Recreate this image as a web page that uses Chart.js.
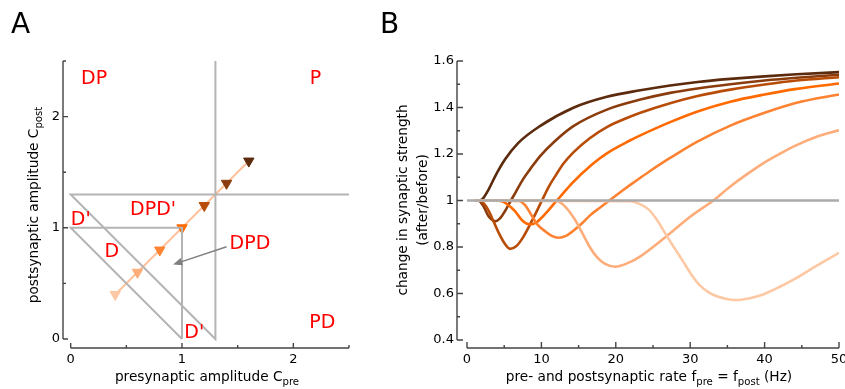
<!DOCTYPE html>
<html>
<head>
<meta charset="utf-8">
<script src="https://cdn.jsdelivr.net/npm/chart.js@4.4.0/dist/chart.umd.min.js"></script>
<style>
html, body { margin: 0; padding: 0; background: #fff; }
#wrap { position: relative; width: 845px; height: 389px; overflow: hidden; }
canvas { position: absolute; top: 0; }
#chartA { left: 0; }
#chartB { left: 370px; }
</style>
</head>
<body>
<div id="wrap">
  <canvas id="chartA" width="370" height="389"></canvas>
  <canvas id="chartB" width="475" height="389"></canvas>
</div>
<script>
// -- painel A: amplitudes --
const ampLevels = [0.4, 0.6, 0.8, 1.0, 1.2, 1.4, 1.6];
const ampColors = ['#fdc8a4', '#fdac7a', '#fd8232', '#ff6a00', '#b84c07', '#8b3c0c', '#5c2a0c'];

// limites das regioes (polilinhas)
const outerBoundX = [2.5, 0, 1.3, 1.3];
const outerBoundY = [1.3, 1.3, 0, 2.5];
const innerBoundX = [1, 0, 1, 1];
const innerBoundY = [0, 1, 1, 0];

// nomes das regioes
const regionNames = ['DP', 'P', 'PD', "DPD'", "D'", 'D', "D'", 'DPD'];
const regionX = [0.21, 2.2, 2.26, 0.74, 0.09, 0.37, 1.11, 1.61];
const regionY = [2.34, 2.34, 0.14, 1.16, 1.07, 0.78, 0.05, 0.85];
const arrowFrom = [1.40, 0.83];
const arrowTo = [0.92, 0.67];

const ampTicks = [0, 0.5, 1, 1.5, 2, 2.5];

// -- painel B: curvas de plasticidade --
const rate16 = [1, 1.5, 2, 2.9, 3.8, 5.1, 6.9, 9.8, 14.3, 18.8, 23.3, 27.3, 31, 35.4, 40, 44.3, 50];
const change16 = [1.0, 1.0, 1.004, 1.047, 1.105, 1.176, 1.248, 1.32, 1.399, 1.446, 1.474, 1.495, 1.51, 1.523, 1.534, 1.543, 1.552];

const rate14 = [1, 1.5, 2.2, 2.9, 3.8, 4.4, 5.1, 5.9, 6.5, 7.5, 8.5, 9.8, 11.8, 14.3, 18.8, 23.3, 27.3, 31, 35.4, 40, 44.3, 50];
const change14 = [1.0, 1.0, 0.976, 0.932, 0.911, 0.922, 0.954, 1.0, 1.033, 1.09, 1.135, 1.19, 1.255, 1.32, 1.391, 1.434, 1.463, 1.482, 1.5, 1.516, 1.528, 1.541];

const rate12 = [1, 1.6, 2.3, 3, 3.5, 4.2, 5, 5.8, 6.6, 7.4, 8.7, 10, 11, 12, 13, 14.3, 16.5, 18.8, 21.9, 23.3, 27.3, 31, 35.4, 40, 44.3, 50];
const change12 = [1.0, 1.0, 0.985, 0.95, 0.915, 0.865, 0.818, 0.792, 0.803, 0.835, 0.911, 0.995, 1.06, 1.112, 1.16, 1.207, 1.268, 1.316, 1.36, 1.377, 1.418, 1.449, 1.477, 1.499, 1.516, 1.53];

const rate10 = [1, 3, 4.5, 5.5, 6.45, 7.4, 8.47, 9.3, 10, 11, 11.8, 12.5, 14.1, 16.8, 18.8, 21.9, 23.3, 27.3, 31, 35.4, 40, 44.3, 50];
const change10 = [1.0, 1.0, 0.998, 0.982, 0.954, 0.915, 0.897, 0.905, 0.925, 0.96, 0.99, 1.015, 1.074, 1.155, 1.203, 1.258, 1.28, 1.337, 1.383, 1.425, 1.456, 1.48, 1.503];

const rate08 = [1, 7, 7.8, 8.7, 9.5, 10.5, 11.4, 12.27, 13.3, 14.5, 15.5, 16.5, 17.9, 19, 21, 21.9, 23.3, 24.6, 26.4, 27.3, 30.9, 35.4, 40, 44.3, 50];
const change08 = [1.0, 0.998, 0.98, 0.935, 0.895, 0.868, 0.848, 0.84, 0.848, 0.875, 0.903, 0.935, 0.97, 0.997, 1.045, 1.066, 1.098, 1.127, 1.165, 1.183, 1.252, 1.322, 1.377, 1.42, 1.456];

const rate06 = [1, 12, 13, 14.5, 15.5, 16.5, 17.5, 18.5, 19.9, 21.9, 23.3, 25, 27.1, 30, 33.1, 35.3, 37.5, 39.8, 42, 44.3, 47, 50];
const change06 = [1.0, 0.998, 0.98, 0.918, 0.86, 0.8, 0.755, 0.728, 0.715, 0.735, 0.76, 0.8, 0.854, 0.93, 1.0, 1.058, 1.11, 1.16, 1.2, 1.238, 1.274, 1.302];

const rate04 = [1, 21.9, 23, 24.4, 25.5, 26.8, 28, 29.1, 30.2, 31.3, 32.5, 33.6, 36, 38, 39.8, 42, 44.3, 47, 50];
const change04 = [1.0, 0.997, 0.988, 0.962, 0.918, 0.85, 0.79, 0.735, 0.68, 0.635, 0.605, 0.588, 0.572, 0.58, 0.596, 0.628, 0.667, 0.72, 0.775];

const baselineRate = [0, 50];
const baselineChange = [1, 1];

const rateTicks = [0, 5, 10, 15, 20, 25, 30, 35, 40, 45, 50];
const changeTicks = [0.4, 0.5, 0.6, 0.7, 0.8, 0.9, 1.0, 1.1, 1.2, 1.3, 1.4, 1.5, 1.6];

const FONT = '"DejaVu Sans", sans-serif';

// helper: pares x/y
function pts(xs, ys) {
    return xs.map((x, i) => ({ x: x, y: ys[i] }));
}

// texto com subscrito
function richText(ctx, parts, x, y, size) {
    let w = 0;
    parts.forEach(p => {
        ctx.font = (p.sub ? size * 0.74 : size) + 'px ' + FONT;
        w += ctx.measureText(p.t).width;
    });
    let cx = x - w / 2;
    parts.forEach(p => {
        ctx.font = (p.sub ? size * 0.74 : size) + 'px ' + FONT;
        ctx.fillText(p.t, cx, y + (p.sub ? size * 0.32 : 0));
        cx += ctx.measureText(p.t).width;
    });
}

// eixos destacados com ticks para dentro
function drawAxes(chart, major, minor) {
    const ctx = chart.ctx;
    const a = chart.chartArea;
    const xs = chart.scales.x;
    const ys = chart.scales.y;
    ctx.save();
    ctx.strokeStyle = '#444';
    ctx.lineWidth = 1.4;
    ctx.beginPath();
    const xt = xs.ticks;
    ctx.moveTo(xs.getPixelForValue(xt[0].value), a.bottom);
    ctx.lineTo(xs.getPixelForValue(xt[xt.length - 1].value), a.bottom);
    xt.forEach(t => {
        const px = xs.getPixelForValue(t.value);
        ctx.moveTo(px, a.bottom);
        ctx.lineTo(px, a.bottom - (t.label !== '' ? major : minor));
    });
    const yt = ys.ticks;
    ctx.moveTo(a.left, ys.getPixelForValue(yt[0].value));
    ctx.lineTo(a.left, ys.getPixelForValue(yt[yt.length - 1].value));
    yt.forEach(t => {
        const py = ys.getPixelForValue(t.value);
        ctx.moveTo(a.left, py);
        ctx.lineTo(a.left + (t.label !== '' ? major : minor), py);
    });
    ctx.stroke();
    ctx.restore();
}

// tamanho fixo dos eixos (sem padding automatico dos rotulos)
function fixX(s) {
    s.height = 41;
    s.paddingLeft = 0;
    s.paddingRight = 0;
}
function fixY(w) {
    return s => {
        s.width = w;
        s.paddingTop = 0;
        s.paddingBottom = 0;
    };
}

const axesPluginA = {
    id: 'axesA',
    beforeDatasetsDraw(chart) {
        drawAxes(chart, 5, 3);
    },
    afterDatasetsDraw(chart) {
        const ctx = chart.ctx;
        const xs = chart.scales.x;
        const ys = chart.scales.y;
        ctx.save();
        // seta cinza
        const x1 = xs.getPixelForValue(arrowFrom[0]), y1 = ys.getPixelForValue(arrowFrom[1]);
        const x2 = xs.getPixelForValue(arrowTo[0]), y2 = ys.getPixelForValue(arrowTo[1]);
        const ang = Math.atan2(y2 - y1, x2 - x1);
        ctx.strokeStyle = '#808080';
        ctx.fillStyle = '#808080';
        ctx.lineWidth = 1.5;
        ctx.beginPath();
        ctx.moveTo(x1, y1);
        ctx.lineTo(x2 - Math.cos(ang) * 6, y2 - Math.sin(ang) * 6);
        ctx.stroke();
        ctx.beginPath();
        ctx.moveTo(x2, y2);
        ctx.lineTo(x2 - Math.cos(ang - 0.4) * 10, y2 - Math.sin(ang - 0.4) * 10);
        ctx.lineTo(x2 - Math.cos(ang + 0.4) * 10, y2 - Math.sin(ang + 0.4) * 10);
        ctx.closePath();
        ctx.fill();

        // rotulos vermelhos
        ctx.fillStyle = '#ff0000';
        ctx.font = '19px ' + FONT;
        ctx.textAlign = 'center';
        ctx.textBaseline = 'middle';
        regionNames.forEach((n, i) => {
            ctx.fillText(n, xs.getPixelForValue(regionX[i]), ys.getPixelForValue(regionY[i]));
        });

        // titulos dos eixos e letra
        ctx.fillStyle = '#000';
        ctx.textAlign = 'left';
        ctx.textBaseline = 'alphabetic';
        richText(ctx, [{ t: 'presynaptic amplitude C' }, { t: 'pre', sub: true }], 207, 381, 13.7);
        ctx.save();
        ctx.translate(38, 205);
        ctx.rotate(-Math.PI / 2);
        richText(ctx, [{ t: 'postsynaptic amplitude C' }, { t: 'post', sub: true }], 0, 0, 13.7);
        ctx.restore();
        ctx.font = '28px ' + FONT;
        ctx.fillText('A', 11, 33);
        ctx.restore();
    }
};

const axesPluginB = {
    id: 'axesB',
    beforeDatasetsDraw(chart) {
        drawAxes(chart, 6, 3);
    },
    afterDatasetsDraw(chart) {
        const ctx = chart.ctx;
        ctx.save();
        ctx.fillStyle = '#000';
        ctx.textBaseline = 'alphabetic';
        ctx.textAlign = 'left';
        richText(ctx, [
            { t: 'pre- and postsynaptic rate f' }, { t: 'pre', sub: true },
            { t: ' = f' }, { t: 'post', sub: true }, { t: ' (Hz)' }
        ], 279, 381, 13.7);
        ctx.save();
        ctx.translate(37, 200);
        ctx.rotate(-Math.PI / 2);
        ctx.textAlign = 'center';
        ctx.font = '13.7px ' + FONT;
        ctx.fillText('change in synaptic strength', 0, 0);
        ctx.fillText('(after/before)', 0, 20);
        ctx.restore();
        ctx.font = '28px ' + FONT;
        ctx.fillText('B', 10, 33);
        ctx.restore();
    }
};

function tickFont() {
    return { family: 'DejaVu Sans', size: 13 };
}

// grafico A
const grayLine = { borderColor: '#b4b4b4', borderWidth: 2, pointRadius: 0, showLine: true, tension: 0 };

new Chart(document.getElementById('chartA'), {
    type: 'scatter',
    data: {
        datasets: [
            Object.assign({ data: pts(outerBoundX, outerBoundY) }, grayLine),
            Object.assign({ data: pts(innerBoundX, innerBoundY) }, grayLine),
            {
                data: pts(ampLevels, ampLevels),
                showLine: true,
                borderColor: '#fdc29c',
                borderWidth: 2,
                pointStyle: 'triangle',
                rotation: 180,
                pointRadius: 6,
                pointBorderWidth: 1,
                pointBackgroundColor: ampColors,
                pointBorderColor: ampColors
            }
        ]
    },
    options: {
        responsive: false,
        animation: false,
        devicePixelRatio: 1,
        layout: { padding: { left: 0, top: 61, right: 21, bottom: 0 } },
        plugins: { legend: { display: false }, tooltip: { enabled: false } },
        scales: {
            x: {
                type: 'linear', min: -0.069, max: 2.5,
                grid: { display: false, drawTicks: false },
                border: { display: false },
                afterBuildTicks: s => { s.ticks = ampTicks.map(v => ({ value: v })); },
                afterFit: fixX,
                ticks: {
                    font: tickFont(), color: '#000', padding: 4, maxRotation: 0, autoSkip: false,
                    callback: v => (v % 1 === 0 ? String(v) : '')
                }
            },
            y: {
                type: 'linear', min: -0.081, max: 2.5,
                grid: { display: false, drawTicks: false },
                border: { display: false },
                afterBuildTicks: s => { s.ticks = ampTicks.map(v => ({ value: v })); },
                afterFit: fixY(63),
                ticks: {
                    font: tickFont(), color: '#000', padding: 3, autoSkip: false,
                    callback: v => (v % 1 === 0 ? String(v) : '')
                }
            }
        }
    },
    plugins: [axesPluginA]
});

// grafico B
const curves = [
    [rate04, change04, ampColors[0]],
    [rate06, change06, ampColors[1]],
    [rate08, change08, ampColors[2]],
    [rate10, change10, ampColors[3]],
    [rate12, change12, ampColors[4]],
    [rate14, change14, ampColors[5]],
    [rate16, change16, ampColors[6]]
];

const datasetsB = [{
    data: pts(baselineRate, baselineChange),
    showLine: true, borderColor: '#aaaaaa', borderWidth: 2.5, pointRadius: 0
}];
curves.forEach(c => {
    datasetsB.push({
        data: pts(c[0], c[1]),
        showLine: true,
        borderColor: c[2],
        borderWidth: 2.6,
        pointRadius: 0,
        cubicInterpolationMode: 'monotone'
    });
});

new Chart(document.getElementById('chartB'), {
    type: 'scatter',
    data: { datasets: datasetsB },
    options: {
        responsive: false,
        animation: false,
        devicePixelRatio: 1,
        layout: { padding: { left: 0, top: 61, right: 6, bottom: 0 } },
        plugins: { legend: { display: false }, tooltip: { enabled: false } },
        scales: {
            x: {
                type: 'linear', min: -1.344, max: 50,
                grid: { display: false, drawTicks: false },
                border: { display: false },
                afterBuildTicks: s => { s.ticks = rateTicks.map(v => ({ value: v })); },
                afterFit: fixX,
                ticks: {
                    font: tickFont(), color: '#000', padding: 4, maxRotation: 0, autoSkip: false,
                    callback: v => (v % 10 === 0 ? String(v) : '')
                }
            },
            y: {
                type: 'linear', min: 0.3656, max: 1.6,
                grid: { display: false, drawTicks: false },
                border: { display: false },
                afterBuildTicks: s => { s.ticks = changeTicks.map(v => ({ value: v })); },
                afterFit: fixY(87),
                ticks: {
                    font: tickFont(), color: '#000', padding: 3, autoSkip: false,
                    callback: v => {
                        const k = Math.round(v * 10);
                        return k % 2 === 0 ? String(k / 10) : '';
                    }
                }
            }
        }
    },
    plugins: [axesPluginB]
});
</script>
</body>
</html>
